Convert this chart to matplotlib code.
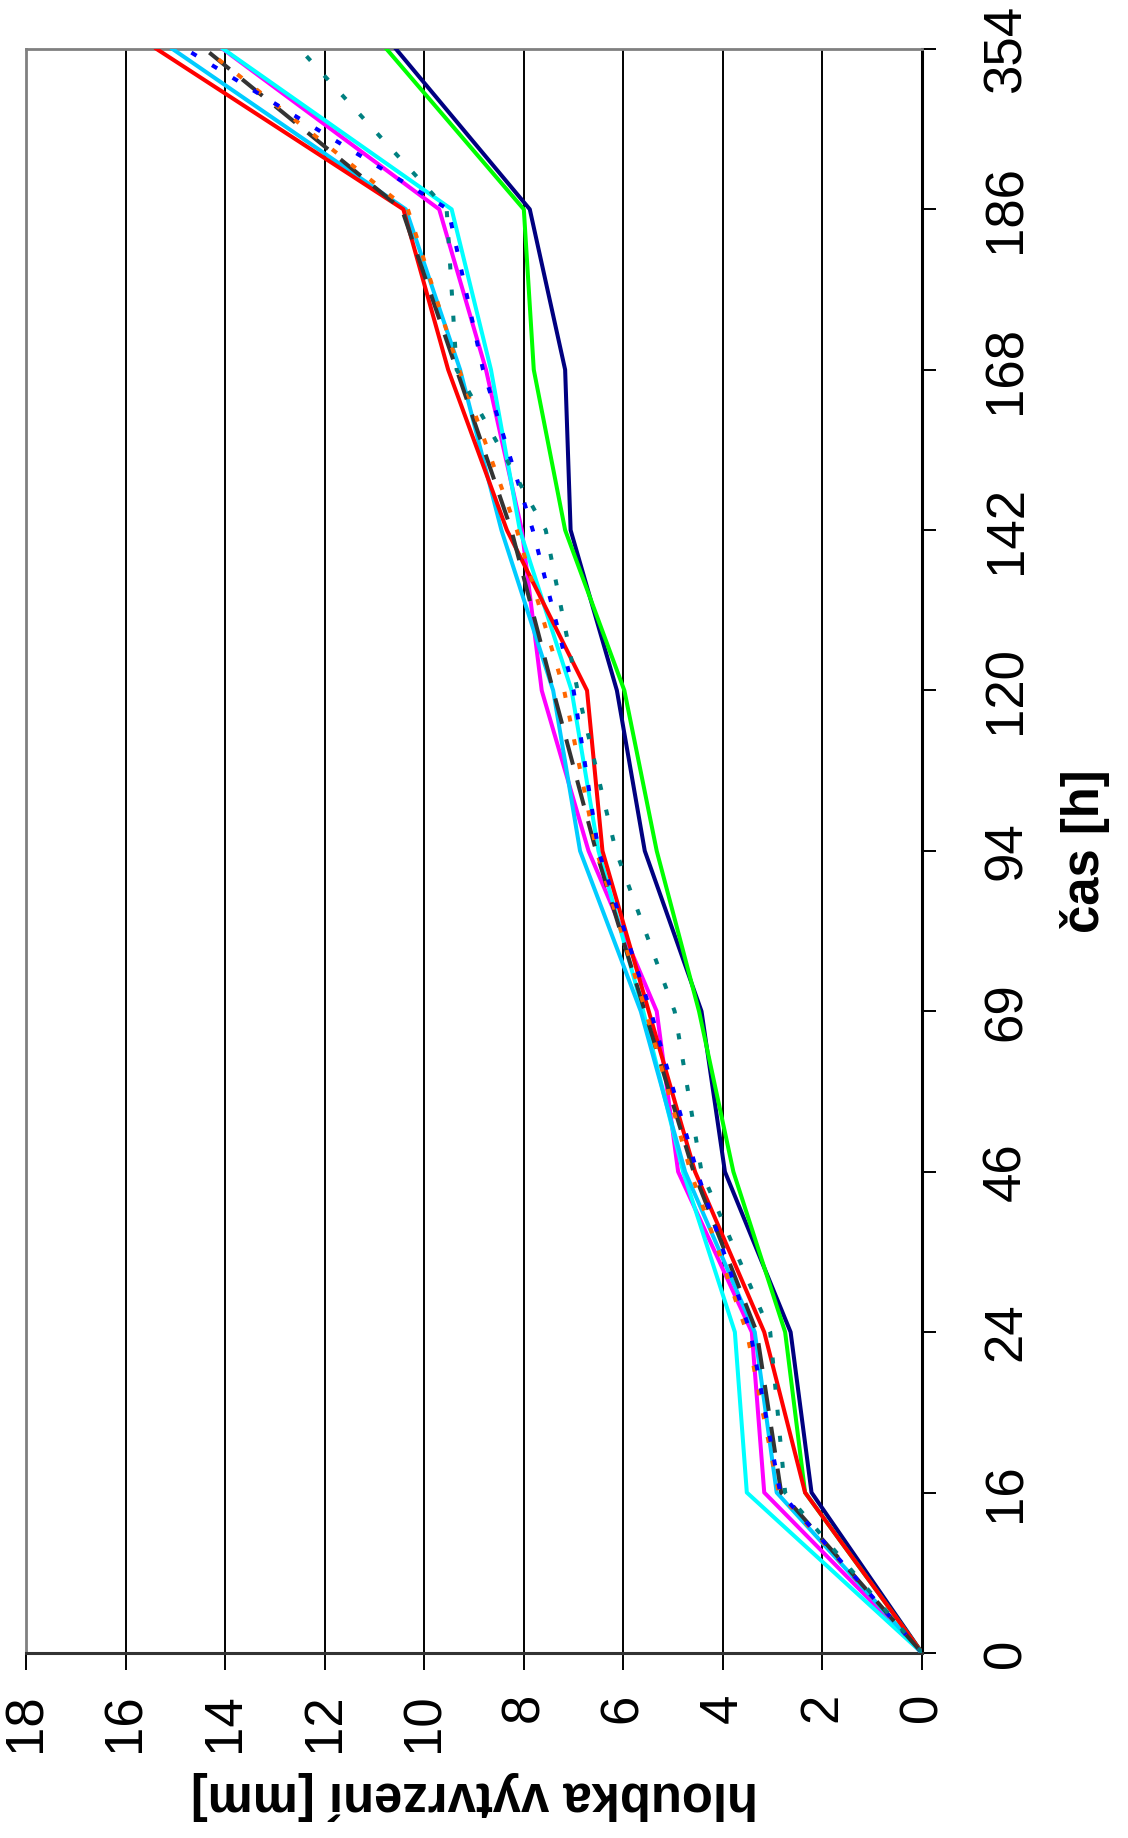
import matplotlib
matplotlib.use('Agg')
from matplotlib import pyplot as plt

plt.rcParams['font.family'] = ['Liberation Sans', 'DejaVu Sans']

# time categories (hours) - drawn along the vertical axis (chart is rotated)
cas = ['0', '16', '24', '46', '69', '94', '120', '142', '168', '186', '354']

# curing depth [mm] for each sample
navy    = [0, 2.22, 2.64, 3.96, 4.43, 5.57, 6.13, 7.06, 7.17, 7.88, 10.57]
green   = [0, 2.35, 2.75, 3.79, 4.48, 5.33, 5.98, 7.17, 7.80, 8.00, 10.76]
magenta = [0, 3.17, 3.42, 4.90, 5.33, 6.70, 7.64, 8.04, 8.76, 9.70, 14.05]
cyan    = [0, 3.52, 3.76, 4.80, 5.60, 6.50, 7.04, 8.08, 8.66, 9.45, 14.04]
skyblue = [0, 2.92, 3.36, 4.76, 5.65, 6.87, 7.41, 8.45, 9.28, 10.37, 15.06]
red     = [0, 2.35, 3.17, 4.56, 5.49, 6.42, 6.73, 8.34, 9.52, 10.42, 15.38]
gray    = [0, 2.83, 3.32, 4.59, 5.57, 6.55, 7.41, 8.25, 9.35, 10.45, 14.41]
orange  = [0, 2.88, 3.52, 4.65, 5.55, 6.54, 7.19, 8.14, 9.30, 10.33, 14.40]
blue    = [0, 2.85, 3.45, 4.52, 5.45, 6.50, 7.00, 7.82, 8.82, 9.52, 14.80]
teal    = [0, 2.75, 3.05, 4.43, 4.97, 6.15, 6.92, 7.56, 9.35, 9.55, 12.50]

depth_ticks = [0, 2, 4, 6, 8, 10, 12, 14, 16, 18]

fig = plt.figure(figsize=(11.28, 18.38), dpi=100)
ax = fig.add_axes([0.0231, 0.1007, 0.7943, 0.8727])

pos = list(range(len(cas)))
lw = 2.9

# grid lines (original horizontal grid)
for d in depth_ticks[1:-1]:
    ax.axvline(d, color='black', lw=1.4, zorder=1)

ax.plot(navy, pos, color='#000080', lw=lw, zorder=3)
ax.plot(green, pos, color='#00FF00', lw=lw, zorder=3)
ax.plot(magenta, pos, color='#FF00FF', lw=lw, zorder=3)
ax.plot(cyan, pos, color='#00FFFF', lw=lw, zorder=3)
ax.plot(skyblue, pos, color='#00CCFF', lw=lw, zorder=3)
ax.plot(red, pos, color='#FF0000', lw=lw, zorder=3)
ax.plot(gray, pos, color='#333333', lw=lw, dashes=(6.5, 4), zorder=4)
ax.plot(orange, pos, color='#FF6600', lw=lw, dashes=(1.5, 4.5), zorder=4)
ax.plot(blue, pos, color='#0000FF', lw=lw, dashes=(1.5, 4.5), zorder=4)
ax.plot(teal, pos, color='#008080', lw=lw, dashes=(1.5, 5), zorder=4)

ax.set_xlim(18, 0)
ax.set_ylim(0, len(cas) - 1)

ax.set_xticks(depth_ticks)
ax.set_xticklabels([str(d) for d in depth_ticks], rotation=90)
ax.set_yticks(pos)
ax.set_yticklabels(cas, rotation=90, va='center')

ax.yaxis.tick_right()
ax.yaxis.set_label_position('right')
ax.tick_params(axis='x', direction='out', length=12, width=1.4, pad=17, labelsize=38)
ax.tick_params(axis='y', direction='out', length=10, width=1.4, pad=33, labelsize=38)

ax.spines['top'].set_color('#808080')
ax.spines['left'].set_color('#808080')
ax.spines['top'].set_linewidth(2)
ax.spines['left'].set_linewidth(2)
ax.spines['right'].set_color('black')
ax.spines['bottom'].set_color('#333333')
ax.spines['right'].set_linewidth(2.2)
ax.spines['bottom'].set_linewidth(2.2)

ax.set_xlabel('hloubka vytvrzení [mm]', fontsize=36.5, fontweight='bold', rotation=180, labelpad=14)
ax.set_ylabel('čas [h]', fontsize=36.5, fontweight='bold', rotation=90, labelpad=20)

plt.savefig('out.png', dpi=100)
